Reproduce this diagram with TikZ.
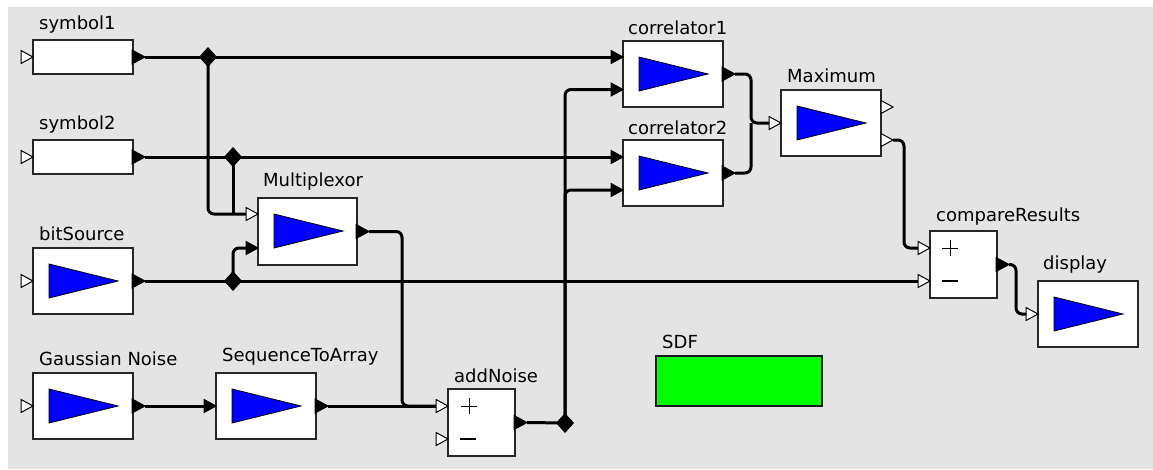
\documentclass[tikz,border=0pt]{standalone}
\usepackage{fontspec}
\setmainfont{DejaVu Sans}
\usetikzlibrary{calc,shapes.geometric}
\definecolor{bg}{HTML}{E4E4E4}
\definecolor{wblue}{HTML}{0000FF}
\definecolor{sdfgreen}{HTML}{00FF00}
\newcommand\PIn[1]{\draw[line width=1pt,fill=white,line join=miter] (#1) -- ++(0,-6.5) -- ++(12,6.5) -- ++(-12,6.5) -- cycle;}
\newcommand\PInF[1]{\draw[line width=1pt,fill=black,line join=miter] (#1) -- ++(0,-6.5) -- ++(12,6.5) -- ++(-12,6.5) -- cycle;}
\newcommand\POut[1]{\draw[line width=1pt,fill=black,line join=miter] (#1) -- ++(-13,-7) -- ++(0,14) -- cycle;}
\newcommand\POutO[1]{\draw[line width=1pt,fill=white,line join=miter] (#1) -- ++(-12,-6.5) -- ++(0,13) -- cycle;}
\newcommand\Icon[1]{\draw[fill=wblue,line width=0.8pt,line join=miter] ($(#1.north west)+(16,16)$) -- ++(0,34) -- ++(69,-17) -- cycle;}
\begin{document}
\begin{tikzpicture}[x=1pt,y=-1pt,
  box/.style={draw=black!85,line width=1.2pt,fill=white,anchor=north west,inner sep=0pt,outer sep=0pt,minimum width=100pt,minimum height=66pt},
  slim/.style={minimum height=34pt},
  sq/.style={minimum width=67pt,minimum height=67pt},
  lbl/.style={anchor=base west,inner sep=0pt,font=\fontsize{18}{20}\selectfont},
  wire/.style={line width=3pt,rounded corners=6pt},
  junc/.style={diamond,fill=black,inner sep=0pt,outer sep=0pt,minimum width=18pt,minimum height=20pt}]
\useasboundingbox (0,0) rectangle (1153,469);
\fill[bg] (8,7) rectangle (1153,469);
% boxes
\node[box,slim] (s1) at (33,40) {};
\node[box,slim] (s2) at (33,140) {};
\node[box] (bit) at (33,248) {};
\node[box] (gauss) at (33,373) {};
\node[box] (seq) at (216,373) {};
\node[box,minimum width=99pt,minimum height=67pt] (mux) at (258,198) {};
\node[box,sq] (add) at (448,389) {};
\node[box] (c1) at (623,41) {};
\node[box] (c2) at (623,140) {};
\node[box] (max) at (781,90) {};
\node[box,sq] (cmp) at (930,231) {};
\node[box] (disp) at (1038,281) {};
\node[box,fill=sdfgreen,minimum width=166pt,minimum height=50pt,draw=black!90,line width=1.5pt] (sdf) at (656,356) {};
% icons
\foreach \n in {bit,gauss,seq,mux,c1,c2,max,disp} {\Icon{\n}}
% signs
\draw[line width=1pt] ($(add.north west)+(13,17)$) -- ++(16,0) ($(add.north west)+(21,9)$) -- ++(0,16);
\draw[line width=2.5pt] ($(add.north west)+(12,50)$) -- ++(16,0);
\draw[line width=1pt] ($(cmp.north west)+(12,17)$) -- ++(16,0) ($(cmp.north west)+(20,9)$) -- ++(0,16);
\draw[line width=2.5pt] ($(cmp.north west)+(12,50)$) -- ++(16,0);
% labels
\node[lbl] (l1) at (39,29) {symbol1};
\node[lbl] (l2) at (39,129) {symbol2};
\node[lbl] (l3) at (263,186) {Multiplexor};
\node[lbl] (l4) at (39,240) {bitSource};
\node[lbl] (l5) at (39,365) {Gaussian Noise};
\node[lbl] (l6) at (222,361) {SequenceToArray};
\node[lbl] (l7) at (454,382) {addNoise};
\node[lbl] (l8) at (628,34) {correlator1};
\node[lbl] (l9) at (628,134) {correlator2};
\node[lbl] (l10) at (787,82) {Maximum};
\node[lbl] (l11) at (936,221) {compareResults};
\node[lbl] (l12) at (1043,269) {display};
\node[lbl] (l13) at (662,348) {SDF};
% port coordinates
\coordinate (s1in) at ($(s1.west)+(-12,0)$);
\coordinate (s2in) at ($(s2.west)+(-12,0)$);
\coordinate (bitin) at ($(bit.west)+(-12,0)$);
\coordinate (gaussin) at ($(gauss.west)+(-12,0)$);
\coordinate (s1out) at ($(s1.east)+(12,0)$);
\coordinate (s2out) at ($(s2.east)+(12,0)$);
\coordinate (bitout) at ($(bit.east)+(12,0)$);
\coordinate (gaussout) at ($(gauss.east)+(12,0)$);
\coordinate (seqin) at ($(seq.west)+(-12,0)$);
\coordinate (seqout) at ($(seq.east)+(12,0)$);
\coordinate (muxin1) at ($(mux.north west)+(-12,16)$);
\coordinate (muxin2) at ($(mux.north west)+(-12,50)$);
\coordinate (muxout) at ($(mux.east)+(12,0)$);
\coordinate (addin1) at ($(add.north west)+(-12,17)$);
\coordinate (addin2) at ($(add.north west)+(-12,50)$);
\coordinate (addout) at ($(add.east)+(12,0)$);
\coordinate (c1in1) at ($(c1.north west)+(-12,16)$);
\coordinate (c1in2) at ($(c1.north west)+(-12,48.5)$);
\coordinate (c1out) at ($(c1.east)+(12,0)$);
\coordinate (c2in1) at ($(c2.north west)+(-12,17)$);
\coordinate (c2in2) at ($(c2.north west)+(-12,50)$);
\coordinate (c2out) at ($(c2.east)+(12,0)$);
\coordinate (maxin) at ($(max.west)+(-12,0)$);
\coordinate (maxout1) at ($(max.north east)+(12,17)$);
\coordinate (maxout2) at ($(max.north east)+(12,50)$);
\coordinate (cmpin1) at ($(cmp.north west)+(-12,17)$);
\coordinate (cmpin2) at ($(cmp.north west)+(-12,50)$);
\coordinate (cmpout) at ($(cmp.east)+(12,0)$);
\coordinate (dispin) at ($(disp.west)+(-12,0)$);
% junction positions
\coordinate (j1) at (208,57);
\coordinate (j2) at (233,157);
\coordinate (j3) at (233,281);
\coordinate (j4) at (565,423);
% wires
\draw[wire] (s1out) -- (c1in1);
\draw[wire] (j1) |- (muxin1);
\draw[wire] (s2out) -- (c2in1);
\draw[wire] (j2) -- (j2 |- muxin1);
\draw[wire] (bitout) -- (cmpin2);
\draw[wire] (j3) |- (muxin2);
\draw[wire] (gaussout) -- (seqin);
\draw[wire] (muxout) -| ($(addin1)+(-34,0)$) -- (addin1);
\draw[wire] (seqout) -- (addin1);
\draw[wire] (addout) -- (j4);
\draw[wire] (j4) |- (c1in2);
\draw[wire] (j4) |- (c2in2);
\draw[wire] (c1out) -| ($(maxin)+(-18,0)$) -- (maxin);
\draw[wire] (c2out) -| ($(maxin)+(-18,0)$);
\draw[wire] (maxout2) -| ($(cmpin1)+(-14,0)$) -- (cmpin1);
\draw[wire] (cmpout) -| ($(dispin)+(-10,0)$) -- (dispin);
% junction diamonds
\node[junc] (d1) at (j1) {};
\node[junc] (d2) at (j2) {};
\node[junc] (d3) at (j3) {};
\node[junc] (d4) at (j4) {};
% ports
\foreach \p in {s1in,s2in,bitin,gaussin,muxin1,addin1,addin2,maxin,cmpin1,cmpin2,dispin} {\PIn{\p}}
\foreach \p in {seqin,muxin2,c1in1,c1in2,c2in1,c2in2} {\PInF{\p}}
\foreach \p in {s1out,s2out,bitout,gaussout,seqout,muxout,addout,c1out,c2out,cmpout} {\POut{\p}}
\foreach \p in {maxout1,maxout2} {\POutO{\p}}
\end{tikzpicture}
\end{document}
